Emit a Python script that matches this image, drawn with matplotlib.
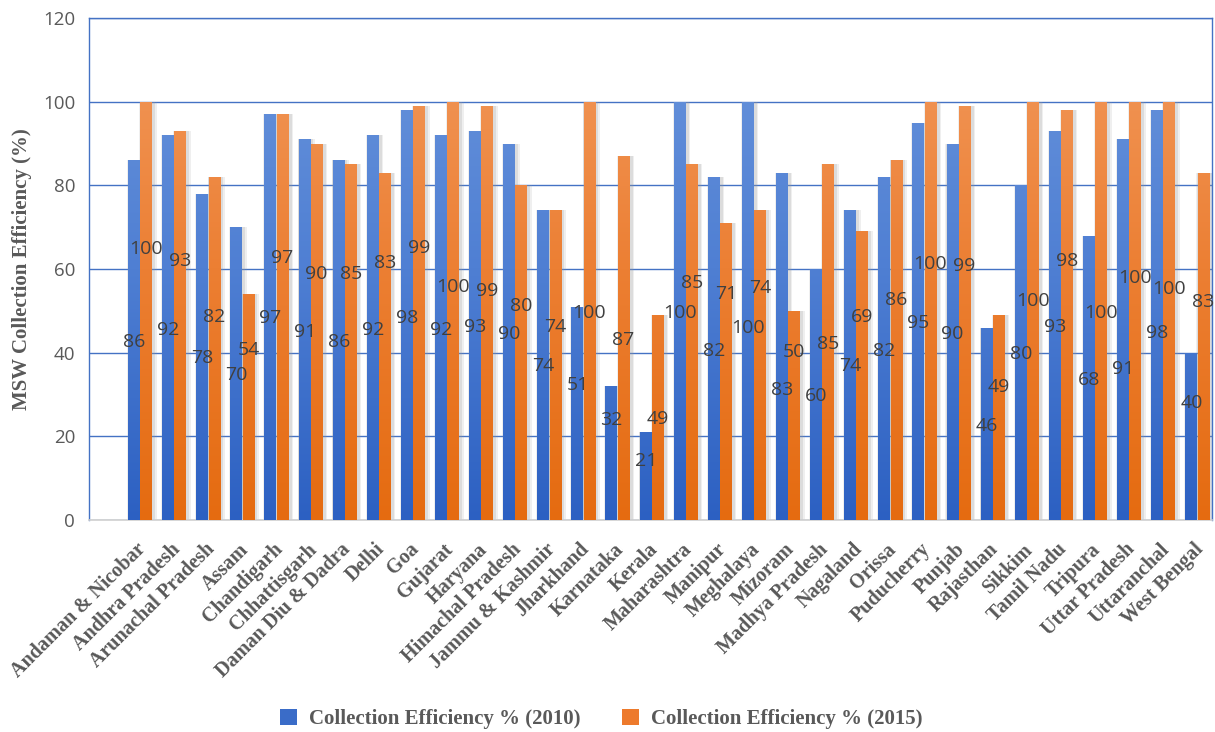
import numpy as np
import matplotlib
matplotlib.use("Agg")
import matplotlib.pyplot as plt
from matplotlib.colors import LinearSegmentedColormap
from matplotlib.patches import Patch

states = ["Andaman & Nicobar", "Andhra Pradesh", "Arunachal Pradesh", "Assam",
          "Chandigarh", "Chhattisgarh", "Daman Diu & Dadra", "Delhi", "Goa",
          "Gujarat", "Haryana", "Himachal Pradesh", "Jammu & Kashmir", "Jharkhand",
          "Karnataka", "Kerala", "Maharashtra", "Manipur", "Meghalaya", "Mizoram",
          "Madhya Pradesh", "Nagaland", "Orissa", "Puducherry", "Punjab",
          "Rajasthan", "Sikkim", "Tamil Nadu", "Tripura", "Uttar Pradesh",
          "Uttaranchal", "West Bengal"]
eff_2010 = [86, 92, 78, 70, 97, 91, 86, 92, 98, 92, 93, 90, 74, 51, 32, 21,
            100, 82, 100, 83, 60, 74, 82, 95, 90, 46, 80, 93, 68, 91, 98, 40]
eff_2015 = [100, 93, 82, 54, 97, 90, 85, 83, 99, 100, 99, 80, 74, 100, 87, 49,
            85, 71, 74, 50, 85, 69, 86, 100, 99, 49, 100, 98, 100, 100, 100, 83]
# heights where the data labels sit (as placed in the original chart)
label_y_2010 = [42.6, 45.4, 38.7, 34.7, 48.2, 45.0, 42.6, 45.4, 48.4, 45.4, 46.1,
                44.5, 36.7, 32.3, 23.9, 14.2, 49.6, 40.4, 45.8, 31.1, 29.6, 36.7,
                40.4, 47.0, 44.5, 22.5, 39.7, 46.1, 33.5, 36.0, 44.6, 27.9]
label_y_2015 = [64.8, 61.9, 48.5, 40.6, 62.6, 58.8, 58.8, 61.4, 65.0, 55.8, 54.7,
                51.2, 46.1, 49.6, 43.0, 24.1, 56.6, 54.0, 55.4, 40.1, 42.1, 48.6,
                52.6, 61.1, 60.6, 31.9, 52.4, 61.8, 49.4, 57.8, 55.2, 52.2]

serif = ["Liberation Serif", "DejaVu Serif"]
sans = ["Open Sans", "DejaVu Sans"]

fig = plt.figure(figsize=(12.15, 7.32), dpi=100)
ax = fig.add_axes([89 / 1215, 212 / 732, 1123 / 1215, 502 / 732])

x = np.arange(len(states))
w = 0.35
blue_cmap = LinearSegmentedColormap.from_list("b", ["#2c60c2", "#4f7fd3", "#6a95dc"])
orange_cmap = LinearSegmentedColormap.from_list("o", ["#e56b10", "#ec7f33", "#f29a5e"])
grad = np.linspace(0, 1, 256).reshape(-1, 1)


def draw_bars(xs, vals, cmap):
    # soft grey shadow
    for dx, extra, a in [(0.05, 0.16, 0.15), (0.04, 0.09, 0.22)]:
        ax.bar(xs + dx, np.array(vals) + 0.6, width=w + extra, bottom=-0.6,
               color="#9a9a9a", alpha=a, linewidth=0, zorder=2)
    bars = ax.bar(xs, vals, width=w, color="none", linewidth=0, zorder=3)
    for b in bars:
        im = ax.imshow(grad, cmap=cmap, origin="lower", aspect="auto",
                       extent=[b.get_x(), b.get_x() + b.get_width(), 0, 120],
                       zorder=3, interpolation="bilinear")
        im.set_clip_path(b)
    return bars


draw_bars(x - w / 2 - 0.005, eff_2010, blue_cmap)
draw_bars(x + w / 2 + 0.005, eff_2015, orange_cmap)

for i in range(len(states)):
    ax.text(x[i] - w / 2, label_y_2010[i], str(eff_2010[i]), ha="center", va="center",
            fontsize=14, color="#404040", family=sans, zorder=5)
    ax.text(x[i] + w / 2, label_y_2015[i], str(eff_2015[i]), ha="center", va="center",
            fontsize=14, color="#404040", family=sans, zorder=5)

ax.set_xlim(-1.5, 31.43)
ax.set_ylim(0, 120)
ax.set_yticks(range(0, 121, 20))
ax.yaxis.grid(True, color="#4472c4", linewidth=1.0, zorder=1)
ax.set_axisbelow(True)
for s in ["top", "left", "right"]:
    ax.spines[s].set_color("#4472c4")
    ax.spines[s].set_linewidth(1.0)
ax.spines["bottom"].set_color("#d0d0d0")
ax.spines["bottom"].set_linewidth(1.2)
ax.tick_params(axis="both", length=0)
ax.tick_params(axis="y", pad=10, labelsize=13.5, labelcolor="#595959")
for t in ax.get_yticklabels():
    t.set_family(sans)

ax.set_xticks(x - 0.12)
ax.set_xticklabels(states, rotation=45, ha="right", rotation_mode="anchor",
                   family=serif, fontweight="bold", fontsize=14.5, color="#595959")
ax.tick_params(axis="x", pad=14)

ax.set_ylabel("MSW Collection Efficiency (%)", family=serif, fontweight="bold",
              fontsize=15, color="#595959", labelpad=8)

handles = [Patch(facecolor="#3a6cc8", edgecolor="none"),
           Patch(facecolor="#ed7a2c", edgecolor="none")]
fig.legend(handles, ["Collection Efficiency % (2010)", "Collection Efficiency % (2015)"],
           loc="lower center", bbox_to_anchor=(0.495, -0.022), ncol=2, frameon=False,
           prop={"family": serif, "weight": "bold", "size": 15},
           labelcolor="#595959", handlelength=0.8, handleheight=0.8,
           columnspacing=2.0, handletextpad=0.6)

fig.savefig("out.png", dpi=100)
